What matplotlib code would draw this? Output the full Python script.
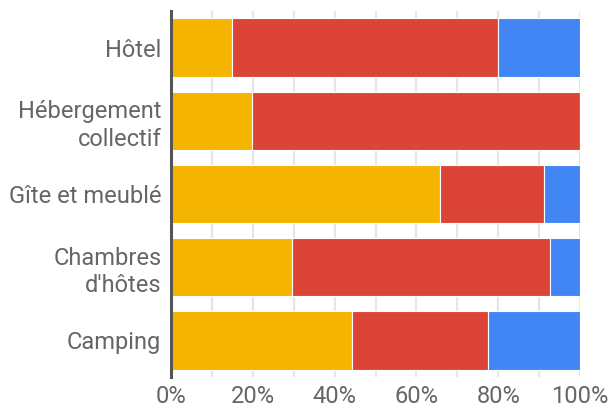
import matplotlib
matplotlib.use("Agg")
import matplotlib.pyplot as plt
import numpy as np

# data (percent of each row)
categories = ["Hôtel", "Hébergement\ncollectif", "Gîte et meublé", "Chambres\nd'hôtes", "Camping"]
serie_jaune = [14.8, 19.7, 65.7, 29.5, 44.2]
serie_rouge = [65.1, 80.3, 25.5, 63.2, 33.3]
serie_bleue = [20.1, 0.0, 8.8, 7.3, 22.5]
ticks = [0, 20, 40, 60, 80, 100]
tick_labels = ["0%", "20%", "40%", "60%", "80%", "100%"]

colors = ["#F4B400", "#DB4437", "#4285F4"]
text_color = "#666666"

plt.rcParams['font.family'] = ['Roboto', 'DejaVu Sans']

fig = plt.figure(figsize=(6.08, 4.07), dpi=100)
W, H = 608, 407
ax = fig.add_axes([171 / W, (H - 377) / H, (580 - 171) / W, (377 - 11) / H])

y = np.arange(len(categories))
left = np.zeros(len(categories))
for vals, c in zip([serie_jaune, serie_rouge, serie_bleue], colors):
    vals = np.array(vals)
    ax.barh(y, vals, left=left, height=0.8, color=c, edgecolor="white", linewidth=0.8, zorder=3)
    left += vals

ax.set_xlim(0, 100)
ax.set_ylim(len(categories) - 0.5, -0.5)

# gridlines every 10%
for gx in range(10, 101, 10):
    ax.axvline(gx, color="#e6e6e6", linewidth=1.6, zorder=1)

ax.set_yticks(y)
ax.set_yticklabels(categories, fontsize=17, color=text_color, linespacing=1.25)
ax.set_xticks(ticks)
ax.set_xticklabels(tick_labels, fontsize=17, color=text_color)
ax.tick_params(axis="both", length=0)
ax.tick_params(axis="y", pad=7)
ax.tick_params(axis="x", pad=6)

for side in ["top", "right", "bottom"]:
    ax.spines[side].set_visible(False)
ax.spines["left"].set_color("#555555")
ax.spines["left"].set_linewidth(2.2)
ax.spines["left"].set_zorder(5)

fig.savefig("out.png", dpi=100)
